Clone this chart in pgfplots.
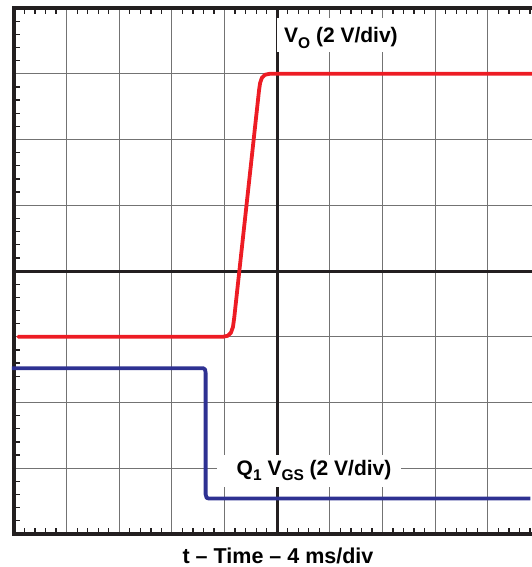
\documentclass[border=0pt]{standalone}
\usepackage{pgfplots}
\pgfplotsset{compat=1.18}
\usepackage{fontspec}
\setmainfont{Liberation Sans}
\definecolor{tred}{HTML}{ED1C24}
\definecolor{tblue}{HTML}{2E3192}
\definecolor{tblack}{HTML}{231F20}
\newcommand{\sub}[1]{\raisebox{-0.28em}{\fontsize{15.5}{18}\selectfont\bfseries #1}}
\begin{document}
\begin{tikzpicture}[x=1pt,y=1pt]
\path[use as bounding box] (-14,-33) rectangle (518,534);
\begin{axis}[
  scale only axis, width=518pt, height=526pt,
  xmin=0, xmax=9.84, ymin=0, ymax=8,
  axis line style={draw=none},
  xtick={0,...,10}, ytick={0,...,8},
  xticklabels={}, yticklabels={},
  minor x tick num=4, minor y tick num=4,
  xtick pos=both, ytick pos=left,
  major tick length=0pt, minor tick length=6pt,
  minor tick style={tblack, line width=1.3pt},
  xmajorgrids, ymajorgrids,
  major grid style={black!55, line width=1pt},
  clip=false,
]
% center lines
\draw[tblack, line width=3pt] (axis cs:5,0) -- (axis cs:5,8);
\draw[tblack, line width=3pt] (axis cs:0,4) -- (axis cs:9.84,4);
% label boxes
\fill[white] (axis cs:4.99,7.33) rectangle (axis cs:7.33,7.85);
\fill[white] (axis cs:3.855,0.715) rectangle (axis cs:7.35,1.20);
% border
\draw[tblack, line width=3.4pt] (axis cs:9.9,8) -- (axis cs:0,8) -- (axis cs:0,0) -- (axis cs:9.9,0);
% traces
\addplot[tblue, line width=3.8pt, line join=round] coordinates {
 (-0.04,2.52) (3.60,2.52) (3.63,2.50) (3.64,2.45) (3.64,0.60) (3.66,0.55) (3.70,0.54) (9.81,0.54)
};
\addplot[tred, line width=3.8pt, line join=round, line cap=round] coordinates {
 (0.08,3.0) (3.97,3.0) (4.06,3.015) (4.12,3.06) (4.16,3.15) (4.185,3.30)
 (4.655,6.75) (4.675,6.86) (4.71,6.94) (4.77,6.985) (4.86,7.0) (9.9,7.0)
};
\node[anchor=base, font=\bfseries\fontsize{21}{25}\selectfont, inner sep=0pt] at (axis cs:6.21,7.468) {V\sub{O} (2 V/div)};
\node[anchor=base, font=\bfseries\fontsize{21}{25}\selectfont, inner sep=0pt] at (axis cs:5.70,0.897) {Q\sub{1} V\sub{GS} (2 V/div)};
\end{axis}
\node[anchor=base, font=\bfseries\fontsize{21.5}{25}\selectfont, inner sep=0pt] at (264,-29) {t – Time – 4 ms/div};
\end{tikzpicture}
\end{document}
